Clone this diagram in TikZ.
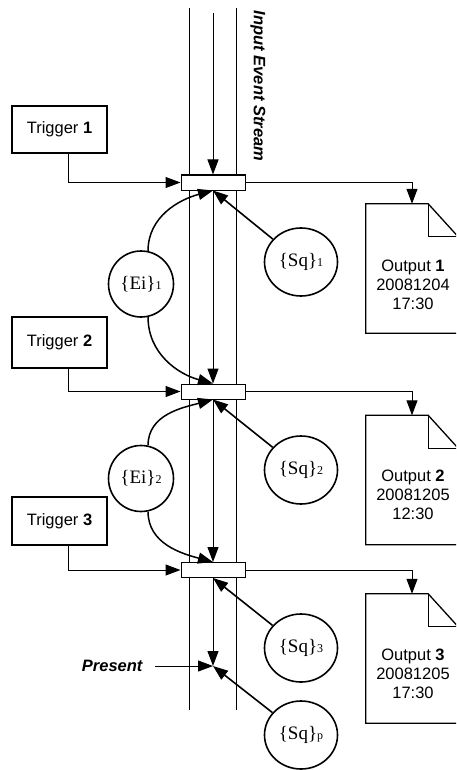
\documentclass[tikz,border=0pt]{standalone}
\usepackage{fontspec}
\setmainfont{Liberation Sans}
\newfontfamily\lblserif{Liberation Serif}
\usetikzlibrary{arrows.meta,shapes.geometric,calc}
\newcommand\setlabel[2]{{\lblserif\fontsize{19}{19}\selectfont\{#1\}\fontsize{12}{12}\selectfont #2}}
\newcommand\docshape[1]{%
  \draw[docln] (#1.north west) -- ([xshift=-30pt]#1.north east) -- ([yshift=-33pt]#1.north east) -- (#1.south east) -- (#1.south west) -- cycle;
  \draw[docln] ([xshift=-30pt]#1.north east) |- ([yshift=-33pt]#1.north east);}
\begin{document}
\begin{tikzpicture}[x=1pt,y=-1pt,
  tip/.style={-{Triangle[length=15pt,width=11pt]}},
  thinln/.style={line width=1pt},
  docln/.style={line width=1.3pt},
  evbox/.style={draw,fill=white,line width=1pt,minimum width=64pt,minimum height=15pt,inner sep=0pt},
  trigbox/.style={draw,line width=1.3pt,minimum width=95pt,inner sep=0pt,font=\fontsize{16.5}{16.5}\selectfont},
  setnode/.style={draw,ellipse,line width=1.6pt,inner sep=0pt,minimum width=73pt,minimum height=68pt},
  einode/.style={draw,ellipse,line width=1.6pt,inner sep=0pt,minimum width=65pt,minimum height=66pt},
  docnode/.style={minimum width=92pt,minimum height=129pt,inner sep=0pt},
  doctext/.style={align=center,font=\fontsize{16.5}{19}\selectfont},
  emph/.style={font=\bfseries\itshape\fontsize{16.5}{16.5}\selectfont}
]
\useasboundingbox (0,0) rectangle (456,770);
\clip (0,0) rectangle (456,770);

% stream lines
\coordinate (l1) at (189,8); \coordinate (l2) at (189,710);
\coordinate (r1) at (236,8); \coordinate (r2) at (236,710);
\draw[thinln] (l1) -- (l2);
\draw[thinln] (r1) -- (r2);
\node[emph,rotate=-90] (ies) at (258,86) {Input Event Stream};

% event boxes
\node[evbox] (b1) at (213,182.5) {};
\node[evbox] (b2) at (213,391.5) {};
\node[evbox] (b3) at (213,570) {};
\coordinate (top) at (213,13);
\coordinate (pp) at (213,666);

\draw[thinln,tip] (top) -- (b1.north);
\draw[thinln,tip] (b1.south) -- (b2.north);
\draw[thinln,tip] (b2.south) -- (b3.north);
\draw[thinln,tip] (b3.south) -- (pp);

% triggers
\node[trigbox,minimum height=47pt] (t1) at (59.5,129.5) {Trigger \textbf{1}};
\node[trigbox,minimum height=51pt] (t2) at (59.5,342.5) {Trigger \textbf{2}};
\node[trigbox,minimum height=48pt] (t3) at (59.5,521) {Trigger \textbf{3}};
\draw[thinln,tip] ([xshift=8.5pt]t1.south) |- (b1.west);
\draw[thinln,tip] ([xshift=8.5pt]t2.south) |- (b2.west);
\draw[thinln,tip] ([xshift=8.5pt]t3.south) |- (b3.west);

% outputs
\node[docnode] (d1) at (412,268.5) {};
\node[docnode] (d2) at (412,480) {};
\node[docnode] (d3) at (412,658.5) {};
\docshape{d1}
\docshape{d2}
\docshape{d3}
\node[doctext] (o1) at (413,285) {Output \textbf{1}\\20081204\\17:30};
\node[doctext] (o2) at (413,495) {Output \textbf{2}\\20081205\\12:30};
\node[doctext] (o3) at (413,674) {Output \textbf{3}\\20081205\\17:30};
\draw[thinln,tip] (b1.east) -| (d1.north);
\draw[thinln,tip] (b2.east) -| (d2.north);
\draw[thinln,tip] (b3.east) -| (d3.north);

% sets
\node[setnode] (sq1) at (301,262) {\setlabel{Sq}{1}};
\node[setnode] (sq2) at (301,470) {\setlabel{Sq}{2}};
\node[setnode] (sq3) at (301,648) {\setlabel{Sq}{3}};
\node[setnode] (sqp) at (301,735) {\setlabel{Sq}{p}};
\draw[line width=1.6pt,tip] (sq1) -- (b1.south);
\draw[line width=1.6pt,tip] (sq2) -- (b2.south);
\draw[line width=1.6pt,tip] (sq3) -- (b3.south);
\draw[line width=1.6pt,tip] (sqp) -- (pp);

\node[einode] (ei1) at (141,284) {\setlabel{Ei}{1}};
\node[einode] (ei2) at (141,478.5) {\setlabel{Ei}{2}};
\draw[line width=1.5pt,tip] (ei1.78) to[out=90,in=195] (b1.south);
\draw[line width=1.5pt,tip] (ei1.-78) to[out=-90,in=165] (b2.north);
\draw[line width=1.5pt,tip] (ei2.78) to[out=90,in=195] (b2.south);
\draw[line width=1.5pt,tip] (ei2.-78) to[out=-90,in=165] (b3.north);

% present
\node[emph,anchor=east] (present) at (146,666) {Present};
\draw[thinln,tip] ([xshift=9pt]present.east) -- (pp);
\end{tikzpicture}
\end{document}
